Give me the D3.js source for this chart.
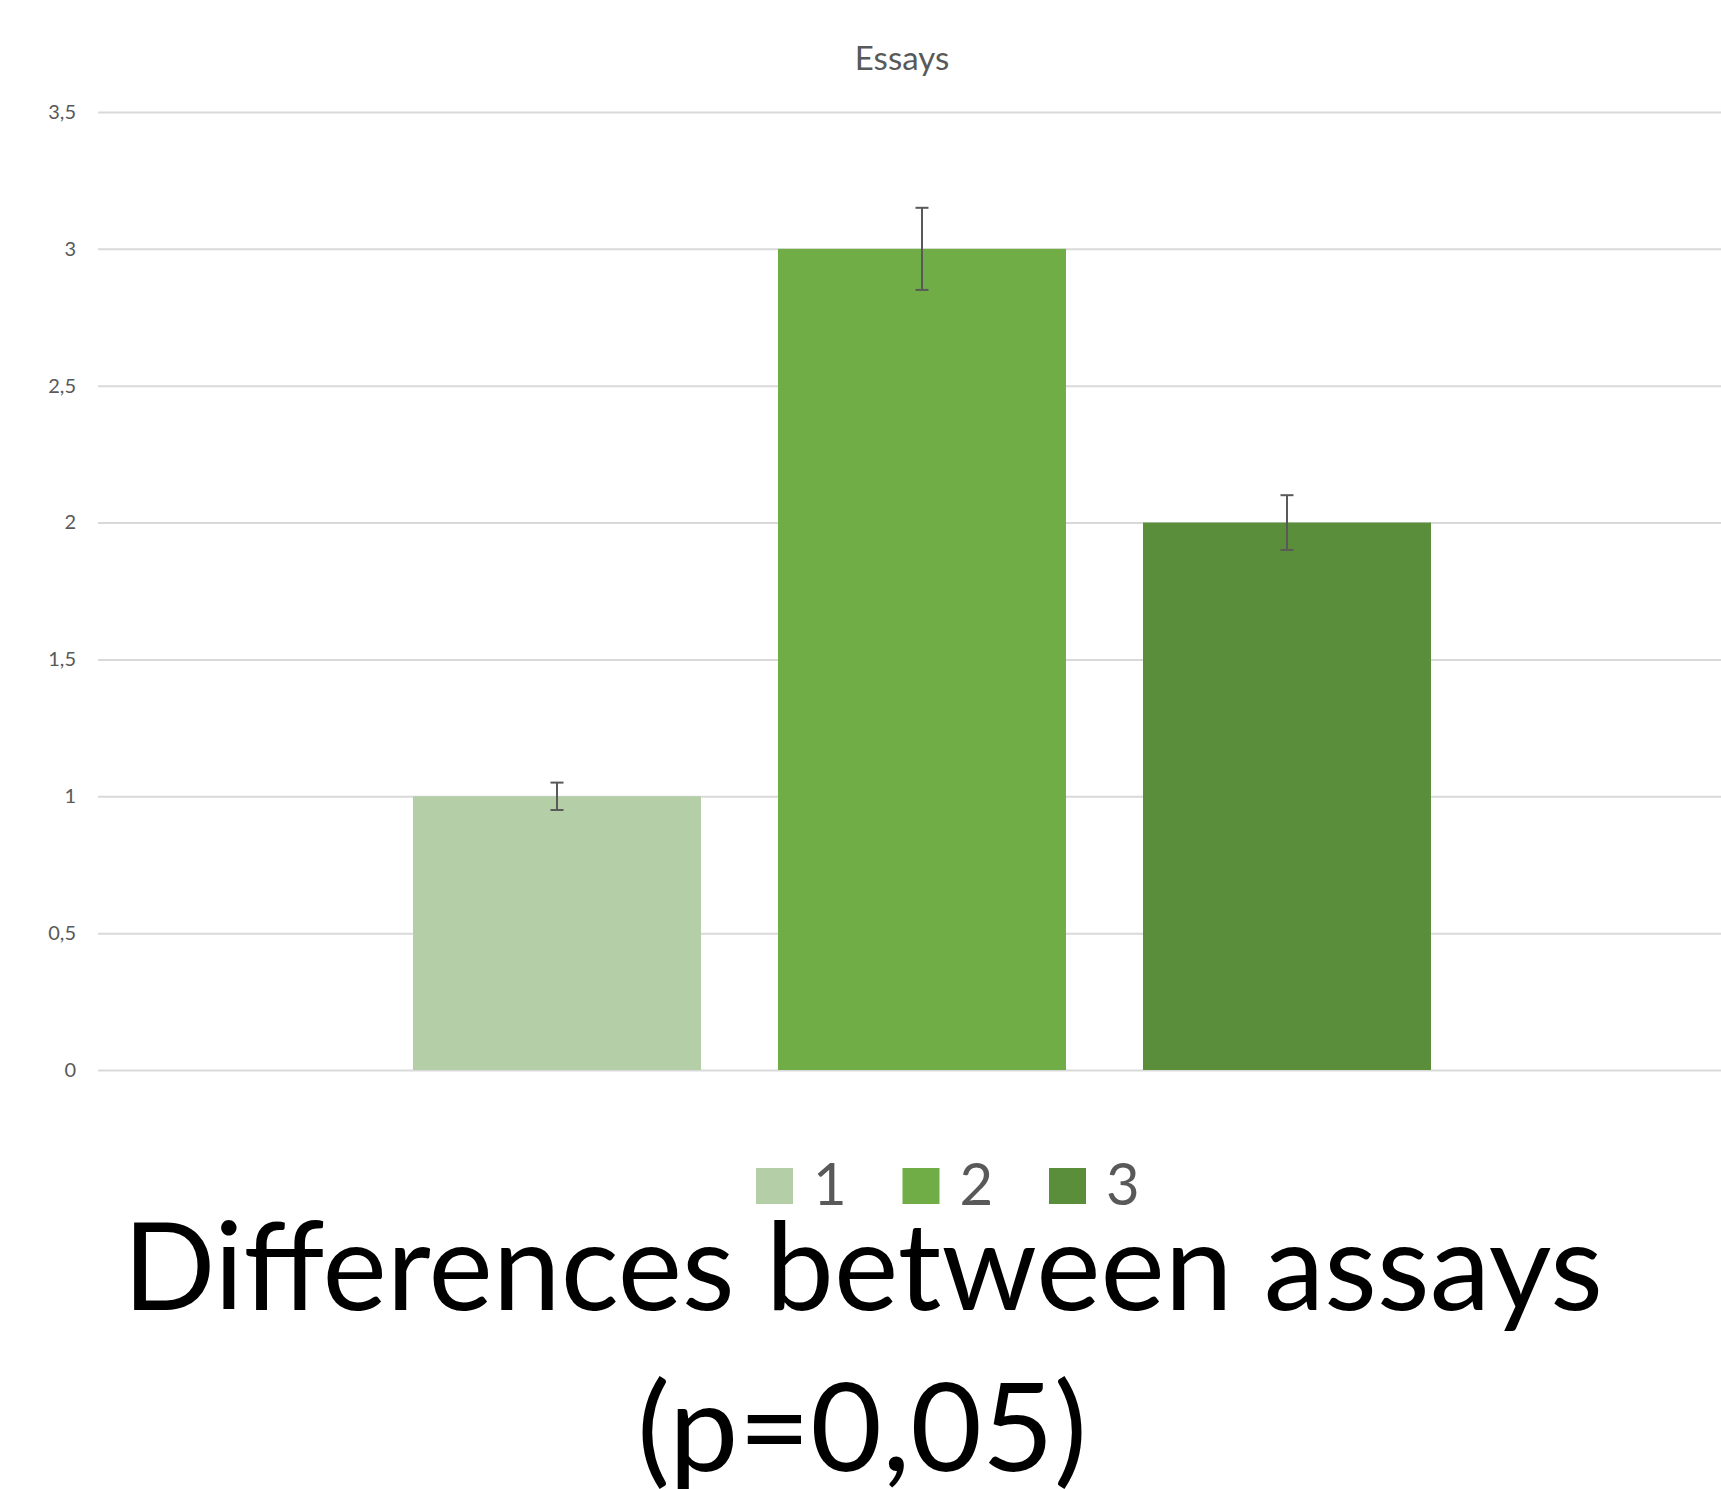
<!DOCTYPE html>
<html lang="en">
<head>
  <meta charset="UTF-8" />
  <title>Essays</title>
  <style>
    body { margin: 0; background: #fff; font-family: Lato, "Open Sans", sans-serif; }
    .grid line { stroke: #d9d9d9; stroke-width: 2; }
    .grid .domain { display: none; }
    .grid text { fill: #595959; font-size: 20px; font-family: Lato, sans-serif; }
  </style>
</head>
<body>
  <div id="chart"></div>

  <script src="https://cdnjs.cloudflare.com/ajax/libs/d3/7.8.4/d3.min.js"></script>
  <script>
    const width = 1721, height = 1489;

    // data
    const categories = ["1", "2", "3"];
    const values = [1, 3, 2];
    const errors = [0.05, 0.15, 0.1];
    const colors = ["#b4cea7", "#70ad47", "#5b8e3a"];
    const yTicks = [0, 0.5, 1, 1.5, 2, 2.5, 3, 3.5];

    const svg = d3.select("#chart").append("svg")
      .attr("width", width).attr("height", height);

    const plotLeft = 98, plotRight = 1721;
    const x = d3.scaleBand().domain(categories).range([413, 1431]).paddingInner(0.211).paddingOuter(0);
    const y = d3.scaleLinear().domain([0, 3.5]).range([1070, 112]);

    // gridlines + tick labels
    svg.append("g")
      .attr("class", "grid")
      .attr("transform", `translate(${plotLeft},0)`)
      .call(d3.axisLeft(y)
        .tickValues(yTicks)
        .tickSize(-(plotRight - plotLeft))
        .tickPadding(22)
        .tickFormat(d => String(d).replace(".", ",")));

    // bars
    svg.append("g")
      .selectAll("rect")
      .data(values)
      .enter().append("rect")
      .attr("x", (d, i) => x(categories[i]))
      .attr("y", d => y(d))
      .attr("width", x.bandwidth())
      .attr("height", d => y(0) - y(d))
      .attr("fill", (d, i) => colors[i]);

    // error bars
    const err = svg.append("g")
      .attr("stroke", "#595959")
      .attr("stroke-width", 2)
      .selectAll("g")
      .data(values)
      .enter().append("g");
    const cx = i => x(categories[i]) + x.bandwidth() / 2;
    err.append("line")
      .attr("x1", (d, i) => cx(i)).attr("x2", (d, i) => cx(i))
      .attr("y1", (d, i) => y(d + errors[i])).attr("y2", (d, i) => y(d - errors[i]));
    err.append("line")
      .attr("x1", (d, i) => cx(i) - 6.5).attr("x2", (d, i) => cx(i) + 6.5)
      .attr("y1", (d, i) => y(d + errors[i])).attr("y2", (d, i) => y(d + errors[i]));
    err.append("line")
      .attr("x1", (d, i) => cx(i) - 6.5).attr("x2", (d, i) => cx(i) + 6.5)
      .attr("y1", (d, i) => y(d - errors[i])).attr("y2", (d, i) => y(d - errors[i]));

    // chart title
    svg.append("text")
      .attr("x", 902).attr("y", 70)
      .attr("text-anchor", "middle")
      .attr("fill", "#595959")
      .style("font-size", "33px")
      .text("Essays");

    // legend
    const legend = svg.append("g")
      .selectAll("g")
      .data(categories)
      .enter().append("g")
      .attr("transform", (d, i) => `translate(${756 + i * 146.5},1168)`);
    legend.append("rect")
      .attr("width", 37).attr("height", 36)
      .attr("fill", (d, i) => colors[i]);
    legend.append("text")
      .attr("x", 57).attr("y", 37)
      .attr("fill", "#595959")
      .style("font-size", "58px")
      .text(d => d);

    // big caption
    svg.append("text")
      .attr("x", 863).attr("y", 1310)
      .attr("text-anchor", "middle")
      .attr("fill", "#000")
      .attr("textLength", 1480)
      .attr("lengthAdjust", "spacingAndGlyphs")
      .style("font-size", "122px")
      .text("Differences between assays");
    svg.append("text")
      .attr("x", 862).attr("y", 1471)
      .attr("text-anchor", "middle")
      .attr("fill", "#000")
      .attr("textLength", 450)
      .attr("lengthAdjust", "spacingAndGlyphs")
      .style("font-size", "122px")
      .text("(p=0,05)");
  </script>
</body>
</html>
